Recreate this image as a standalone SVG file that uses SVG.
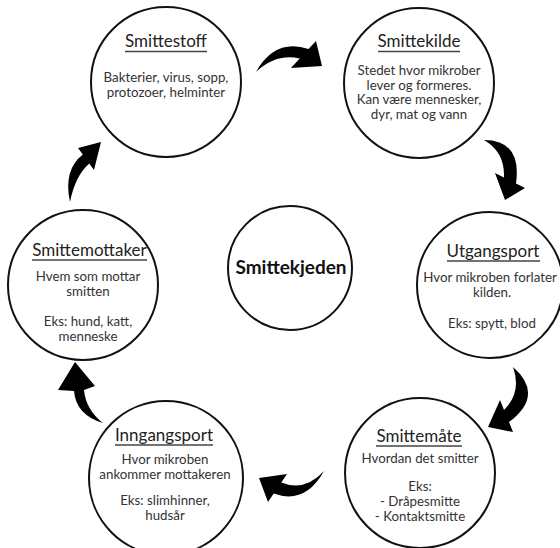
<svg xmlns="http://www.w3.org/2000/svg" width="560" height="548" viewBox="0 0 560 548">
<style>
.c{fill:#fff;stroke:#111;stroke-width:2}
.t{font-family:Lato,"Noto Sans",sans-serif;font-size:17px;fill:#222;text-anchor:middle}
.b{font-family:Lato,"Noto Sans",sans-serif;font-size:13.3px;fill:#333;text-anchor:middle}
.u{stroke:#444;stroke-width:1.5}
.m{font-family:Lato,"Noto Sans",sans-serif;font-size:19px;font-weight:bold;fill:#111;text-anchor:middle}
.a{fill:#000}
</style>
<rect width="560" height="548" fill="#fff"/>
<g id="smittestoff">
<circle class="c" cx="166" cy="82" r="75"/>
<text class="t" x="166" y="47">Smittestoff</text>
<line class="u" x1="125" y1="51.5" x2="207" y2="51.5"/>
<text class="b" x="166" y="82">Bakterier, virus, sopp,</text>
<text class="b" x="166" y="96.5">protozoer, helminter</text>
</g>
<g id="smittekilde">
<circle class="c" cx="419" cy="83" r="75"/>
<text class="t" x="419" y="47">Smittekilde</text>
<line class="u" x1="378" y1="51.5" x2="460" y2="51.5"/>
<text class="b" x="419" y="75">Stedet hvor mikrober</text>
<text class="b" x="419" y="89.5">lever og formeres.</text>
<text class="b" x="419" y="104">Kan være mennesker,</text>
<text class="b" x="419" y="118.5">dyr, mat og vann</text>
</g>
<g id="utgangsport">
<circle class="c" cx="490" cy="285" r="73"/>
<text class="t" x="493" y="257">Utgangsport</text>
<line class="u" x1="447" y1="261" x2="540" y2="261"/>
<text class="b" x="490" y="282">Hvor mikroben forlater</text>
<text class="b" x="492" y="296.5">kilden.</text>
<text class="b" x="492" y="328">Eks: spytt, blod</text>
</g>
<g id="smittemate">
<circle class="c" cx="420" cy="473" r="75"/>
<text class="t" x="419" y="442">Smittemåte</text>
<line class="u" x1="376" y1="446" x2="462" y2="446"/>
<text class="b" x="420" y="463">Hvordan det smitter</text>
<text class="b" x="420" y="491">Eks:</text>
<text class="b" x="420" y="506">- Dråpesmitte</text>
<text class="b" x="420" y="521">- Kontaktsmitte</text>
</g>
<g id="inngangsport">
<circle class="c" cx="166" cy="478" r="77"/>
<text class="t" x="164" y="441">Inngangsport</text>
<line class="u" x1="115" y1="445" x2="213" y2="445"/>
<text class="b" x="165" y="464">Hvor mikroben</text>
<text class="b" x="165" y="478.5">ankommer mottakeren</text>
<text class="b" x="165" y="505">Eks: slimhinner,</text>
<text class="b" x="165" y="519.5">hudsår</text>
</g>
<g id="smittemottaker">
<circle class="c" cx="83" cy="285" r="75"/>
<text class="t" x="89.5" y="256">Smittemottaker</text>
<line class="u" x1="32" y1="260" x2="147" y2="260"/>
<text class="b" x="88" y="281">Hvem som mottar</text>
<text class="b" x="88" y="295.5">smitten</text>
<text class="b" x="88" y="326">Eks: hund, katt,</text>
<text class="b" x="88" y="340.5">menneske</text>
</g>
<g id="smittekjeden">
<circle class="c" cx="290" cy="268" r="62"/>
<text class="m" x="291" y="274">Smittekjeden</text>
</g>
<g id="connectors">
<path class="a" d="M256,72 Q275,38 308.5,49 L316,41 L322,66 L291,68 L299.7,58.5 Q276,53 256,72 Z"/>
<path class="a" d="M484,140 Q522,140 516,183.5 L525,188 L505,200 L495,173 L504,177.5 Q505,152 484,140 Z"/>
<path class="a" d="M513,367 Q545,395 509,422 L513,432 L488,427 L500,400 L504,410 Q522,392 513,367 Z"/>
<path class="a" d="M324,471 Q305,492 281.3,482.4 L287,474 L259,478 L268,502 L273.7,493.6 Q305,505 324,471 Z"/>
<path class="a" d="M103,423 Q86,410 84,390 L95,386 L75,362 L58,390 L74,391 Q76,415 103,423 Z"/>
<path class="a" d="M70,202 Q63,170 82.8,154.6 L78,148 L101,142 L94,170 L89.2,163.4 Q75,176 70,202 Z"/>
</g>
</svg>
